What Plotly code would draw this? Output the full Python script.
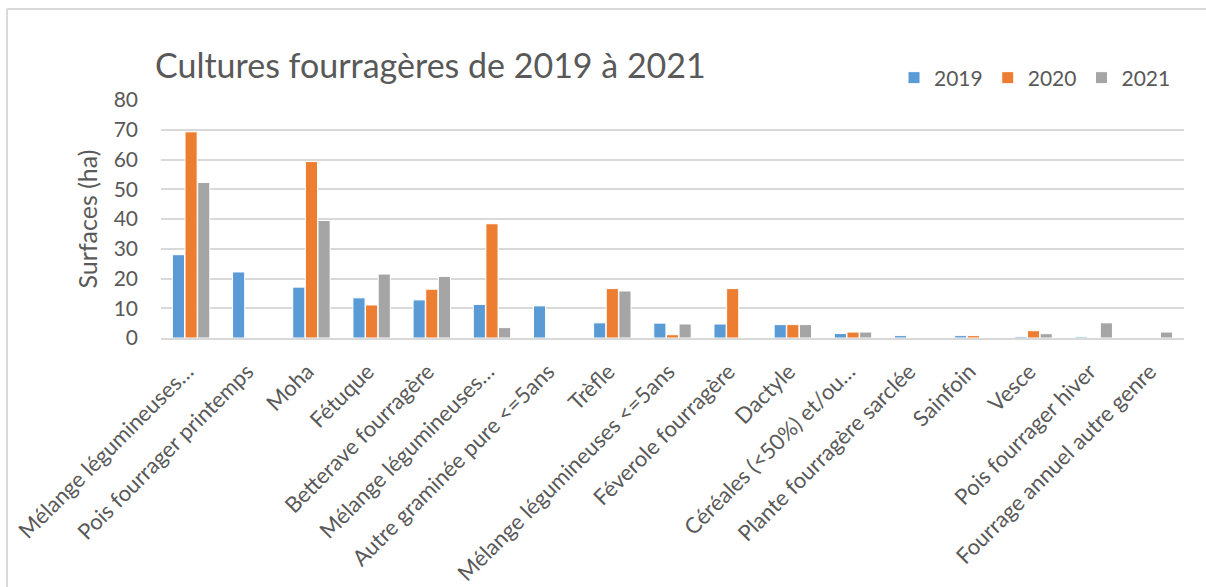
import plotly.graph_objects as go

# Surfaces des cultures fourragères (ha) par année
categories = [
    "Mélange légumineuses…",
    "Pois fourrager printemps",
    "Moha",
    "Fétuque",
    "Betterave fourragère",
    "Mélange légumineuses…",
    "Autre graminée pure <=5ans",
    "Trèfle",
    "Mélange légumineuses <=5ans",
    "Féverole fourragère",
    "Dactyle",
    "Céréales (<50%) et/ou…",
    "Plante fourragère sarclée",
    "Sainfoin",
    "Vesce",
    "Pois fourrager hiver",
    "Fourrage annuel autre genre",
]
surf_2019 = [28.0, 22.2, 17.1, 13.5, 12.8, 11.3, 10.8, 5.1, 5.0, 4.7, 4.5, 1.5, 0.8, 0.8, 0.45, 0.4, 0]
surf_2020 = [69.3, 0, 59.3, 11.1, 16.4, 38.4, 0, 16.6, 1.1, 16.6, 4.5, 2.0, 0, 0.8, 2.45, 0, 0]
surf_2021 = [52.3, 0, 39.5, 21.5, 20.7, 3.5, 0, 15.8, 4.7, 0, 4.5, 2.0, 0, 0, 1.45, 5.1, 2.0]
years = ["2019", "2020", "2021"]
colors = ["#5B9BD5", "#ED7D31", "#A5A5A5"]

# distinct x keys so duplicated labels stay separate categories
x_keys = list(range(len(categories)))

TXT = "#595959"
GRID = "#D9D9D9"
FONT = "Lato"

fig = go.Figure()
for name, vals, col in zip(years, [surf_2019, surf_2020, surf_2021], colors):
    fig.add_trace(go.Bar(
        name=name, x=x_keys, y=vals,
        marker=dict(color=col, line=dict(color="white", width=1)),
    ))

W, H = 1206, 587
L, R, T, B = 161, 22, 100, 249
pw, ph = W - L - R, H - T - B


def px_x(x):
    return (x - L) / pw


def px_y(y):
    return (H - B - y) / ph


fig.update_layout(
    width=W, height=H,
    margin=dict(l=L, r=R, t=T, b=B, autoexpand=False),
    paper_bgcolor="white", plot_bgcolor="white",
    font=dict(family=FONT, color=TXT, size=19),
    barmode="group", bargap=0.37, bargroupgap=0.04,
    title=dict(
        text="Cultures fourragères de 2019 à 2021",
        font=dict(family=FONT, size=34, color=TXT),
        xref="container", x=155 / W, xanchor="left",
        yref="container", y=1 - 66 / H, yanchor="middle",
    ),
    legend=dict(
        orientation="h", xanchor="right", x=px_x(1176),
        yanchor="middle", y=px_y(78),
        font=dict(family=FONT, size=21, color=TXT),
        bgcolor="rgba(0,0,0,0)", traceorder="normal",
    ),
    shapes=[
        dict(type="line", xref="paper", yref="paper",
             x0=px_x(7), x1=px_x(7), y0=px_y(9), y1=px_y(800),
             line=dict(color=GRID, width=2), layer="below"),
        dict(type="line", xref="paper", yref="paper",
             x0=px_x(7), x1=px_x(1300), y0=px_y(9), y1=px_y(9),
             line=dict(color=GRID, width=2), layer="below"),
    ],
)

fig.update_xaxes(
    tickmode="array", tickvals=x_keys, ticktext=categories,
    tickangle=-45, tickfont=dict(family=FONT, size=22, color=TXT),
    ticklabelstandoff=10, ticklabelshift=-4,
    showgrid=False, showline=True, linecolor=GRID, linewidth=2,
    ticks="", range=[-0.5, len(categories) - 0.5],
)
fig.update_yaxes(
    range=[0, 80], dtick=10, showgrid=True, gridcolor=GRID, gridwidth=2,
    zeroline=False, showline=False, ticks="",
    tickfont=dict(family=FONT, size=21, color=TXT),
    ticklabelstandoff=22,
    title_text="Surfaces (ha)",
    title_font=dict(family=FONT, size=25, color=TXT),
    title_standoff=8,
)

fig.write_html("out.html")
